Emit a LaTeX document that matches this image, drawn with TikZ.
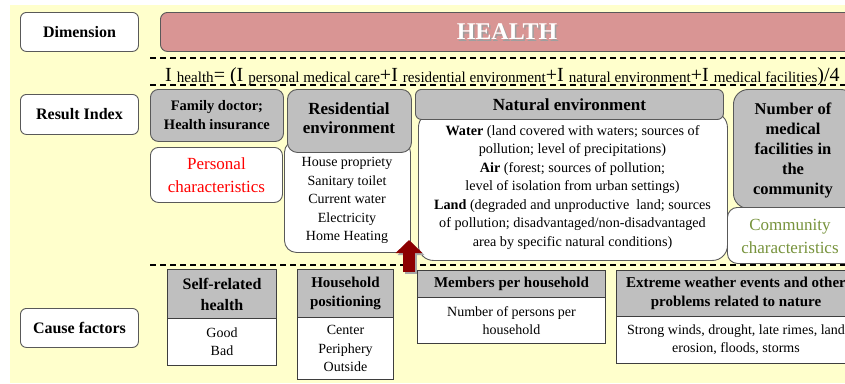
\documentclass[tikz,border=0pt]{standalone}
\usepackage{fontspec}
\setmainfont{Liberation Serif}
\usetikzlibrary{arrows.meta}
\definecolor{bgY}{RGB}{255,255,204}
\definecolor{hpink}{RGB}{217,149,148}
\definecolor{gbox}{RGB}{191,191,191}
\definecolor{bordr}{RGB}{89,89,89}
\definecolor{arrowred}{RGB}{140,0,0}
\definecolor{olivetxt}{RGB}{119,147,60}
\newcommand\fs[2]{\fontsize{#1}{#2}\selectfont}
\newcommand\sbs[1]{\raisebox{-1.5pt}{\fs{15.1}{18}#1}}
\newcommand\bx[7]{\node[#1, minimum width={#5-#3}, minimum height={#6-#4}] (#2) at (#3,#4) {#7};}
\begin{document}
\begin{tikzpicture}[x=1pt,y=-1pt,
  box/.style={anchor=north west, inner sep=0pt, align=center, line width=0.9pt},
  labelbox/.style={box, draw=bordr, fill=white, rounded corners=6pt, font=\fs{16}{19}\bfseries},
  greybox/.style={box, draw=bordr, fill=gbox},
  whitebox/.style={box, draw=bordr, fill=white},
  thead/.style={box, draw=bordr!70!black, fill=gbox, line width=1pt},
  tbody/.style={box, draw=bordr!70!black, fill=white, line width=1pt},
  sep/.style={line width=1.3pt, dash pattern=on 6pt off 4pt},
  txt/.style={inner sep=0pt, align=center},
]
\useasboundingbox (0,0) rectangle (845,383);
\clip (0,0) rectangle (845,383);
\fill[bgY] (10,5) rectangle (845,383);

% left labels
\bx{labelbox}{dim}{20}{12}{138}{51}{Dimension}
\bx{labelbox}{res}{20}{94}{138}{134}{Result Index}
\bx{labelbox}{cause}{20}{308}{138}{347}{Cause factors}

% HEALTH bar
\bx{box, draw=bordr, fill=hpink, rounded corners=7pt}{hbar}{160}{12}{855}{51}{}
\node[txt, font=\fs{24}{28}\bfseries, text=gray!75] at (508.5,33.5) {HEALTH};
\node[txt, font=\fs{24}{28}\bfseries, text=white] (healthtxt) at (507,32) {HEALTH};

% separators
\draw[sep] (150,58) -- (845,58);
\draw[sep] (150,85) -- (845,85);
\draw[sep] (150,265) -- (845,265);

% formula
\node[anchor=base west, inner sep=0pt] (formula) at (165,81)
  {\fs{20}{24}I \sbs{health}= (I \sbs{personal medical care}+I \sbs{residential environment}+I \sbs{natural environment}+I \sbs{medical facilities})/4};

% Result index boxes
\bx{greybox, rounded corners=8pt, font=\fs{14.5}{19}\bfseries}{famdoc}{150}{89}{283}{141}{Family doctor;\\Health insurance}
\bx{whitebox, rounded corners=8pt, font=\fs{17}{23}, text=red}{personal}{150}{147}{282}{202}{Personal\\characteristics}

\bx{whitebox, rounded corners=12pt}{reswhite}{284}{140}{410}{252}{}
\node[txt, font=\fs{14}{18.5}] (reslist) at (347,200.5) {House propriety\\Sanitary toilet\\Current water\\Electricity\\Home Heating};
\bx{greybox, rounded corners=10pt}{resgrey}{287}{89}{411}{152}{}
\node[txt, font=\fs{17}{19.5}\bfseries] (restitle) at (349,118) {Residential\\environment};

\bx{whitebox, rounded corners=15pt}{natwhite}{418}{112}{727}{260}{}
\node[txt, font=\fs{14.2}{18.5}] (natlist) at (572.5,187.5)
  {\textbf{Water} (land covered with waters; sources of\\ pollution; level of precipitations)\\ \textbf{Air} (forest; sources of pollution;\\ level of isolation from urban settings)\\ \textbf{Land} (degraded and unproductive\ \ land; sources\\ of pollution; disadvantaged/non-disadvantaged\\ area by specific natural conditions)};
\bx{greybox, rounded corners=6pt, font=\fs{17}{20}\bfseries}{natgrey}{415}{89}{723}{119}{Natural environment}

\bx{greybox, rounded corners=15pt}{medgrey}{733}{89}{855}{208}{}
\node[txt, font=\fs{16.5}{20}\bfseries] (medtitle) at (793,150) {Number of\\medical\\facilities in\\the\\community};
\bx{whitebox, rounded corners=10pt}{community}{727}{207}{855}{263}{}
\node[txt, font=\fs{17}{23}, text=olivetxt] (commtxt) at (790,236.5) {Community\\characteristics};

% arrow
\coordinate (arrbase) at (409,272);
\coordinate (arrtip) at (409,240);
\draw[gray!70, line width=12pt, -{Triangle[width=26pt,length=13pt]}, transform canvas={xshift=2pt,yshift=-2pt}] (arrbase) -- (arrtip);
\draw[arrowred, line width=12pt, -{Triangle[width=26pt,length=13pt]}] (arrbase) -- (arrtip);

% cause factor tables
\bx{thead, font=\fs{16}{21}\bfseries}{selfh}{167}{269}{276}{318}{Self-related\\health}
\bx{tbody, font=\fs{14}{18}}{selfb}{167}{318}{276}{365}{Good\\Bad}

\bx{thead, font=\fs{15}{19.5}\bfseries}{hposh}{297}{269}{393}{317}{Household\\positioning}
\bx{tbody, font=\fs{14}{18.5}}{hposb}{297}{317}{393}{379}{Center\\Periphery\\Outside}

\bx{thead, font=\fs{15}{19}\bfseries}{memh}{417}{270}{605}{297}{Members per household}
\bx{tbody, font=\fs{14}{18}}{memb}{417}{297}{605}{343}{Number of persons per\\household}

\bx{thead, font=\fs{15}{19}\bfseries}{exth}{616}{270}{855}{316}{Extreme weather events and other\\problems related to nature}
\bx{tbody, font=\fs{14}{18}}{extb}{616}{316}{855}{363}{Strong winds, drought, late rimes, land\\erosion, floods, storms}
\end{tikzpicture}
\end{document}
